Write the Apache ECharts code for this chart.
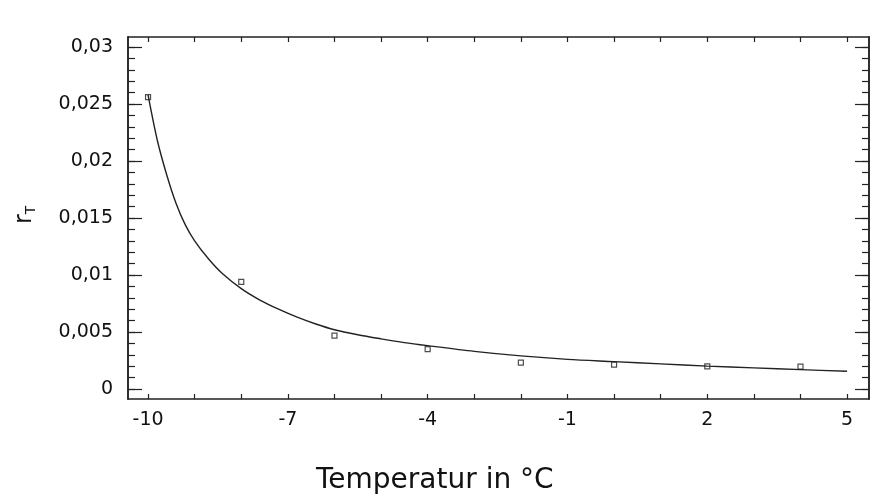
<!DOCTYPE html>
<html>
<head>
<meta charset="utf-8">
<script src="https://cdn.jsdelivr.net/npm/echarts@6/dist/echarts.min.js"></script>
<style>html,body{margin:0;padding:0;background:#fff}#c{width:876px;height:500px}</style>
</head>
<body>
<div id="c"></div>
<script>
// Measured data points (temperature °C, r_T)
const pointX = [-10, -8, -6, -4, -2, 0, 2, 4];
const pointY = [0.0256, 0.0094, 0.00468, 0.00349, 0.00231, 0.00213, 0.00199, 0.00196];
// Fitted curve
const curveX = [-10, -9.8, -9.6, -9.4, -9.2, -9.0, -8.7, -8.4, -8.0, -7.6, -7.2, -6.8, -6.4, -6.0, -5.5, -5.0, -4.5, -4.0, -3.0, -2.0, -1.0, 0, 1, 2, 3, 4, 5];
const curveY = [0.0258, 0.0218, 0.0188, 0.0163, 0.0144, 0.0130, 0.0114, 0.0101, 0.0088, 0.0078, 0.0070, 0.0063, 0.0057, 0.0052, 0.00476, 0.0044, 0.00407, 0.0038, 0.0033, 0.0029, 0.0026, 0.0024, 0.0022, 0.0020, 0.00185, 0.0017, 0.00155];
// Axis ticks and labels
const xLabels = [-10, -7, -4, -1, 2, 5];
const xTicks = [-10, -9, -8, -7, -6, -5, -4, -3, -2, -1, 0, 1, 2, 3, 4, 5];
const yLabels = [0, 0.005, 0.01, 0.015, 0.02, 0.025, 0.03];
const yMinor = [0, 0.001, 0.002, 0.003, 0.004, 0.005, 0.006, 0.007, 0.008, 0.009, 0.01, 0.011, 0.012, 0.013, 0.014, 0.015, 0.016, 0.017, 0.018, 0.019, 0.02, 0.021, 0.022, 0.023, 0.024, 0.025, 0.026, 0.027, 0.028, 0.029, 0.03];

const X_MIN = -10.43, X_MAX = 5.47, Y_MIN = -0.00088, Y_MAX = 0.03088;
const ink = '#222';
const font = 'DejaVu Sans';

function yAx(opts) {
  return Object.assign({
    type: 'value', min: Y_MIN, max: Y_MAX, gridIndex: 0,
    axisLine: { show: true, onZero: false, lineStyle: { color: ink, width: 1.5 } },
    splitLine: { show: false },
    axisLabel: { show: false },
    axisTick: { show: false }
  }, opts);
}
function xAx(opts) {
  return Object.assign({
    type: 'value', min: X_MIN, max: X_MAX, gridIndex: 0,
    axisLine: { show: true, onZero: false, lineStyle: { color: ink, width: 1.5 } },
    splitLine: { show: false },
    axisLabel: { show: false },
    axisTick: { show: true, inside: true, length: 5, customValues: xTicks, lineStyle: { color: ink, width: 1.2 } }
  }, opts);
}

const chart = echarts.init(document.getElementById('c'), null, { renderer: 'canvas' });
chart.setOption({
  backgroundColor: '#fff',
  animation: false,
  grid: { left: 128, right: 7, top: 37, bottom: 101 },
  xAxis: [
    xAx({
      position: 'bottom',
      axisLabel: {
        show: true, customValues: xLabels, margin: 12,
        fontFamily: font, fontSize: 19, color: '#111',
        formatter: v => String(v)
      }
    }),
    xAx({ position: 'top' })
  ],
  yAxis: [
    yAx({
      position: 'left',
      axisLabel: {
        show: true, customValues: yLabels, margin: 15,
        fontFamily: font, fontSize: 19, color: '#111',
        formatter: v => String(v).replace('.', ',')
      },
      axisTick: { show: true, inside: true, length: 14, customValues: yLabels, lineStyle: { color: ink, width: 1.2 } }
    }),
    yAx({
      position: 'left',
      axisTick: { show: true, inside: true, length: 7, customValues: yMinor, lineStyle: { color: ink, width: 1.2 } }
    }),
    yAx({
      position: 'right',
      axisTick: { show: true, inside: true, length: 14, customValues: yLabels, lineStyle: { color: ink, width: 1.2 } }
    }),
    yAx({
      position: 'right',
      axisTick: { show: true, inside: true, length: 7, customValues: yMinor, lineStyle: { color: ink, width: 1.2 } }
    })
  ],
  series: [
    {
      type: 'line', xAxisIndex: 0, yAxisIndex: 0,
      data: curveX.map((x, i) => [x, curveY[i]]),
      smooth: 0.3, showSymbol: false, symbol: 'none',
      lineStyle: { color: ink, width: 1.4 }
    },
    {
      type: 'scatter', xAxisIndex: 0, yAxisIndex: 0,
      data: pointX.map((x, i) => [x, pointY[i]]),
      symbol: 'rect', symbolSize: 5,
      itemStyle: { color: '#fff', borderColor: ink, borderWidth: 1.2 }
    }
  ],
  graphic: [
    {
      type: 'text', left: 316, top: 467,
      style: { text: 'Temperatur in °C', fontFamily: font, fontSize: 28, fill: '#111' }
    },
    {
      type: 'text', x: 12, y: 224, rotation: Math.PI / 2,
      style: {
        text: '{a|r}{b|T}',
        rich: {
          a: { fontFamily: font, fontSize: 24, fill: '#111' },
          b: { fontFamily: font, fontSize: 14, fill: '#111', padding: [12, 0, 0, 0] }
        }
      }
    }
  ]
});
</script>
</body>
</html>
